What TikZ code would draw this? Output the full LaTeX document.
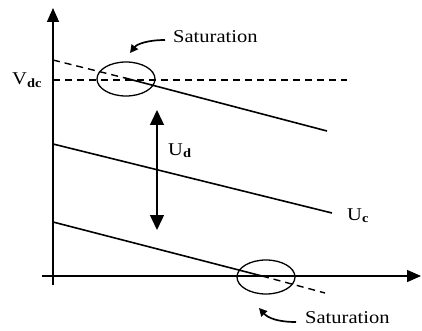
\documentclass[tikz,border=0pt]{standalone}
\usepackage{fontspec}
\setmainfont{Liberation Serif}
\usetikzlibrary{arrows.meta,shapes.geometric}
\newcommand{\wide}[1]{\scalebox{1.14}[1]{#1}}
\begin{document}
\begin{tikzpicture}[x=1pt,y=-1pt,
  axis/.style={line width=1.4pt},
  curve/.style={line width=1.6pt},
  dsh/.style={line width=1.4pt,dash pattern=on 7pt off 5pt},
  big/.style={-{Triangle[width=12pt,length=14pt]}},
  satellipse/.style={draw,ellipse,line width=1.3pt,inner sep=0pt,minimum width=58pt,minimum height=34pt},
  lab/.style={inner sep=0pt,anchor=base west,font=\fontsize{18}{21}\selectfont},
  pointer/.style={line width=1.7pt,-{Triangle[width=8pt,length=8pt]}}]
\useasboundingbox (0,0) rectangle (422,331);
% axes
\coordinate (ybot) at (53,285);
\coordinate (ytop) at (53,8);
\coordinate (xl) at (42,276);
\coordinate (xr) at (421,276);
\draw[axis,big] (ybot) -- (ytop);
\draw[axis,big] (xl) -- (xr);
% Vdc dashed level
\coordinate (v1) at (53,80);
\coordinate (v2) at (347,80);
\draw[dsh] (v1) -- (v2);
% top line
\coordinate (a1) at (53,60);
\coordinate (a2) at (125,78);
\coordinate (a3) at (327,131);
\draw[dsh] (a1) -- (a2);
\draw[curve] (a2) -- (a3);
% middle line
\coordinate (b1) at (53,144);
\coordinate (b2) at (332,213);
\draw[curve] (b1) -- (b2);
% bottom line
\coordinate (c1) at (53,222);
\coordinate (c2) at (262,276);
\coordinate (c3) at (325,293);
\draw[curve] (c1) -- (c2);
\draw[dsh] (c2) -- (c3);
% ellipses
\node[satellipse] (e1) at (126,79) {};
\node[satellipse] (e2) at (266,277) {};
% Ud double arrow
\coordinate (u1) at (157,110);
\coordinate (u2) at (157,230);
\draw[line width=1.4pt,{Triangle[width=14pt,length=15pt]}-{Triangle[width=14pt,length=15pt]}] (u1) -- (u2);
% labels
\node[lab] (vdc) at (12,85) {\wide{V\textsubscript{\textbf{dc}}}};
\node[lab] (ud) at (168,155) {\wide{U\textsubscript{\textbf{d}}}};
\node[lab] (uc) at (347,220) {\wide{U\textsubscript{\textbf{c}}}};
\node[lab] (s1) at (173,43) {\wide{Saturation}};
\node[lab] (s2) at (305,323) {\wide{Saturation}};
% pointers
\coordinate (p1) at (165,40);
\coordinate (p1t) at (130,53);
\draw[pointer] (p1) .. controls (148,40) and (137,44) .. (p1t);
\coordinate (p2) at (296,322);
\coordinate (p2t) at (259,308);
\draw[pointer] (p2) .. controls (278,322) and (268,318) .. (p2t);
\end{tikzpicture}
\end{document}
